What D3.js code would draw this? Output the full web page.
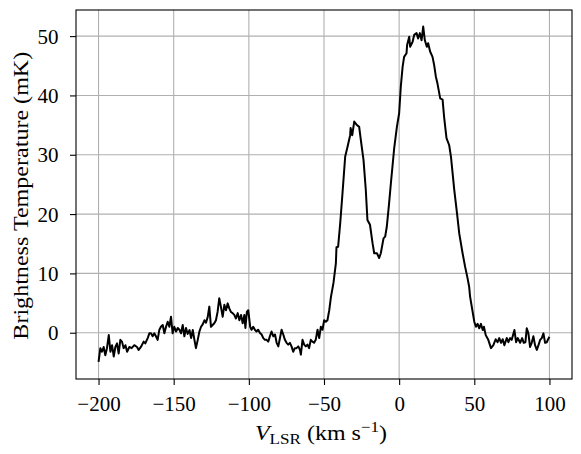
<!DOCTYPE html>
<html><head><meta charset="utf-8">
<script src="https://cdn.jsdelivr.net/npm/d3@7"></script>
<style>body{margin:0;background:#fff}svg{display:block}text{font-family:"Liberation Serif","DejaVu Serif",serif;fill:#000}</style>
</head><body><svg id="c" width="581" height="454"></svg>
<script>
const velocity = [-200.0,-198.8,-197.7,-196.6,-195.5,-194.4,-193.2,-192.1,-191.0,-189.9,-188.8,-187.7,-186.6,-185.5,-184.4,-183.3,-182.1,-181.0,-179.5,-178.0,-176.2,-174.4,-173.3,-171.8,-170.0,-168.9,-167.3,-166.2,-165.1,-164.0,-162.9,-161.8,-160.7,-159.6,-158.5,-157.3,-156.2,-155.1,-154.0,-152.9,-151.8,-150.7,-149.6,-148.4,-147.3,-146.2,-145.1,-144.0,-142.9,-141.8,-140.7,-139.5,-138.4,-137.3,-136.2,-135.2,-134.0,-132.9,-131.8,-130.7,-129.5,-128.5,-127.4,-126.3,-125.2,-124.1,-123.0,-121.9,-120.8,-119.7,-118.6,-117.4,-116.3,-115.2,-114.1,-113.0,-111.9,-110.8,-109.7,-108.6,-107.4,-106.3,-105.2,-104.1,-103.0,-102.3,-101.3,-100.4,-99.1,-98.2,-97.1,-96.0,-94.9,-93.8,-92.6,-91.5,-90.4,-89.3,-88.2,-87.1,-86.0,-84.9,-83.7,-82.6,-81.5,-80.4,-79.3,-78.2,-77.1,-76.0,-74.9,-73.8,-72.7,-71.6,-70.5,-69.4,-68.3,-67.1,-66.0,-65.4,-64.3,-63.2,-62.1,-61.0,-59.9,-58.8,-57.7,-56.6,-55.5,-54.3,-53.2,-52.1,-51.0,-49.9,-48.8,-47.7,-46.5,-45.4,-43.7,-42.1,-41.7,-40.6,-39.2,-37.7,-35.9,-34.3,-32.6,-32.3,-31.2,-29.9,-28.1,-26.6,-25.5,-23.7,-22.2,-21.1,-19.4,-17.7,-16.6,-14.8,-13.3,-12.2,-10.4,-9.3,-8.2,-6.7,-5.5,-3.3,-1.5,0.0,1.1,2.3,3.3,4.9,5.3,6.7,7.3,8.9,10.0,11.6,12.6,13.8,14.9,16.0,17.1,18.4,19.3,20.6,22.2,23.3,24.4,25.5,27.3,28.9,29.9,31.5,33.3,34.5,36.7,38.5,40.0,42.2,43.9,45.5,46.6,47.2,48.7,50.0,51.1,52.2,53.3,54.4,55.6,56.4,57.6,59.3,61.1,62.7,64.2,65.5,66.6,67.8,68.9,70.0,71.6,72.7,73.8,74.9,76.7,77.8,78.9,80.5,81.8,82.9,84.0,84.9,86.0,87.1,88.2,89.3,90.4,91.6,92.7,93.8,94.9,96.0,97.1,98.2,99.3,100.0];
const temperature = [-4.9,-2.6,-3.2,-2.4,-3.8,-2.6,-0.4,-3.2,-2.1,-4.0,-2.4,-1.8,-3.5,-1.2,-1.5,-2.6,-2.1,-3.2,-2.4,-2.6,-2.1,-2.4,-2.9,-2.4,-1.5,-1.8,-0.9,-0.1,-0.1,-0.6,-0.1,-0.6,-1.2,0.45,1.0,1.3,-0.1,1.0,1.85,1.0,2.7,-0.1,1.0,0.2,0.8,0.5,-0.1,1.3,-0.6,0.8,-0.2,0.45,-0.9,0.45,-1.2,-2.6,-1.2,0.2,1.0,1.4,2.1,1.7,2.6,4.4,1.0,1.3,1.6,2.1,3.5,5.8,4.4,2.7,4.7,3.8,4.95,4.1,3.5,3.3,3.0,2.4,3.3,2.1,3.0,1.6,3.0,0.8,3.5,3.8,1.0,0.5,1.0,0.5,0.2,0.5,-0.05,-0.3,-0.9,-1.2,-1.2,-1.5,-0.6,0.2,-0.6,-0.3,-1.7,-2.3,-0.9,0.5,-0.3,-1.2,-1.7,-2.0,-1.7,-2.3,-3.2,-2.6,-2.6,-2.3,-2.9,-3.7,-1.2,-2.0,-2.3,-2.0,-2.6,-1.2,-1.5,-1.7,-1.2,0.5,-0.9,1.0,0.5,2.1,1.85,2.1,3.8,6.0,8.4,11.7,14.4,14.5,18.5,23.5,29.7,31.4,33.3,34.5,33.3,35.6,35.0,34.7,32.5,29.1,24.1,19.0,18.2,15.1,13.4,13.4,12.6,13.4,15.9,16.2,17.9,21.8,25.2,31.1,34.7,37.0,41.5,44.8,46.5,47.1,48.5,49.9,48.2,49.0,50.2,50.5,49.6,50.5,49.3,51.6,49.3,48.2,48.8,47.4,46.5,45.1,43.2,42.0,39.5,39.3,36.4,32.8,31.6,29.6,24.0,20.1,16.7,13.4,11.1,9.2,7.7,6.1,3.8,1.85,1.0,1.5,0.74,1.5,0.45,1.0,-0.4,-1.2,-2.6,-2.1,-1.1,-1.6,-0.9,-1.7,-1.1,-2.1,-0.9,-1.6,-0.9,-1.2,0.45,-1.6,-0.9,-1.7,-0.9,-1.7,-1.6,0.74,-0.1,-2.4,-1.7,-0.6,-2.1,-2.9,-2.1,-1.2,-0.9,-0.1,-1.7,-1.6,-1.0,-0.7];
const xTicks = [-200,-150,-100,-50,0,50,100];
const yTicks = [0,10,20,30,40,50];

const svg = d3.select("#c");
const L = 76, R = 572, T = 10, B = 379;
const x = d3.scaleLinear().domain([-215, 115]).range([L, R]);
const y = d3.scaleLinear().domain([-7.8, 54.4]).range([B, T]);
const fmt = d => (d < 0 ? "\u2212" + Math.abs(d) : String(d));
const FS = 21;

// grid
svg.append("g").selectAll("line").data(xTicks).join("line")
  .attr("x1", d => x(d)).attr("x2", d => x(d)).attr("y1", T).attr("y2", B)
  .attr("stroke", "#b0b0b0").attr("stroke-width", 1.1);
svg.append("g").selectAll("line").data(yTicks).join("line")
  .attr("y1", d => y(d)).attr("y2", d => y(d)).attr("x1", L).attr("x2", R)
  .attr("stroke", "#b0b0b0").attr("stroke-width", 1.1);

// line
const pts = velocity.map((v, i) => [v, temperature[i]]);
svg.append("path").datum(pts)
  .attr("d", d3.line().x(d => x(d[0])).y(d => y(d[1])))
  .attr("fill", "none").attr("stroke", "#000").attr("stroke-width", 2).attr("stroke-linejoin", "round");

// axes
const xa = svg.append("g").attr("transform", `translate(0,${B})`)
  .call(d3.axisBottom(x).tickValues(xTicks).tickFormat(fmt).tickSize(6));
const ya = svg.append("g").attr("transform", `translate(${L},0)`)
  .call(d3.axisLeft(y).tickValues(yTicks).tickFormat(fmt).tickSize(6).tickPadding(11.5));
[xa, ya].forEach(g => {
  g.select(".domain").remove();
  g.selectAll(".tick line").attr("stroke", "#000").attr("stroke-width", 1.1);
  g.selectAll(".tick text").style("font-size", FS + "px").attr("fill", "#000");
});
xa.selectAll(".tick text").attr("dy", null).attr("y", 32);
ya.selectAll(".tick text").attr("dy", "0.33em");
svg.append("rect").attr("x", L).attr("y", T).attr("width", R - L).attr("height", B - T)
  .attr("fill", "none").attr("stroke", "#000").attr("stroke-width", 1.1);

// x label
const xl = svg.append("text").attr("x", 0).attr("y", 0).style("font-size", FS + "px");
xl.append("tspan").attr("font-style", "italic").text("V");
xl.append("tspan").attr("dy", 4).style("font-size", "15px").text("LSR");
xl.append("tspan").attr("dy", -4).text("\u00a0(km s");
xl.append("tspan").attr("dy", -8).style("font-size", "15px").text("\u22121");
xl.append("tspan").attr("dy", 8).text(")");
{
  const bb = xl.node().getBBox();
  const sx = 132 / bb.width;
  xl.attr("transform", `translate(${255 - bb.x * sx},440) scale(${sx},1)`);
}

// y label
const yl = svg.append("text").attr("x", 0).attr("y", 0).attr("text-anchor", "middle")
  .style("font-size", FS + "px").text("Brightness Temperature (mK)");
{
  const bb = yl.node().getBBox();
  const sx = 288 / bb.width;
  yl.attr("transform", `translate(28,195.7) rotate(-90) scale(${sx},1)`);
}
</script></body></html>
